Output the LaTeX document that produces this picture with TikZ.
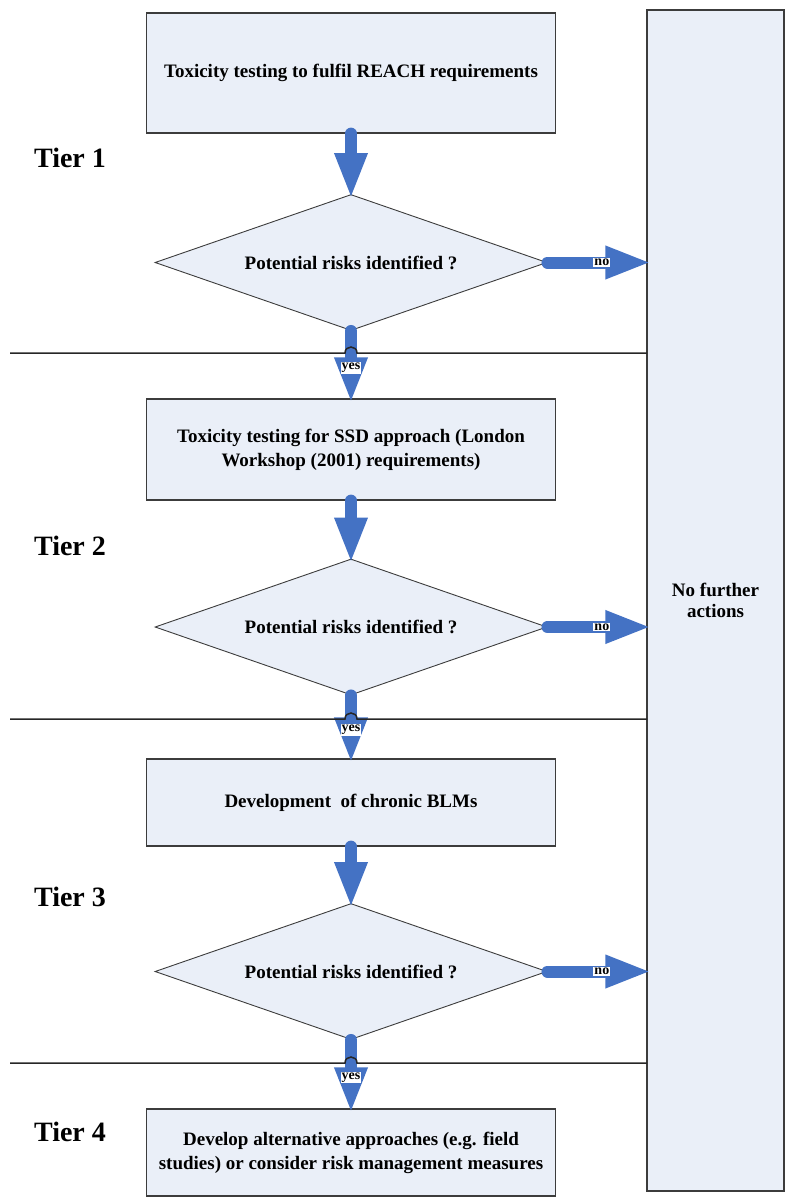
\documentclass[tikz,border=0pt]{standalone}
\usepackage{fontspec}
\setmainfont{Liberation Serif}
\usetikzlibrary{arrows.meta,shapes.geometric}

\definecolor{boxfill}{RGB}{234,239,248}
\definecolor{flowblue}{RGB}{68,114,196}
\definecolor{boxline}{RGB}{60,60,60}

\tikzset{
  stepbox/.style={rectangle, draw=boxline, fill=boxfill, line width=1.2pt,
    minimum width=409pt, inner sep=0pt, align=center,
    font=\fontsize{19}{24}\selectfont\bfseries},
  decision/.style={diamond, draw=boxline, fill=boxfill, line width=0.9pt,
    aspect=2.88, minimum width=392pt, minimum height=136pt, inner sep=0pt,
    font=\fontsize{19}{24}\selectfont\bfseries},
  tierlabel/.style={font=\fontsize{28}{32}\selectfont\bfseries},
  flow/.style={draw=flowblue, line width=12pt, line cap=round, shorten >=-5pt,
    -{Triangle[width=30pt,length=46pt]}},
  flowlabel/.style={fill=white, inner sep=1pt, text=black,
    font=\fontsize{14}{15}\selectfont\bfseries},
  tierline/.style={draw=black!85, line width=1.5pt}
}

\begin{document}
\begin{tikzpicture}[x=1pt, y=-1pt]
    \useasboundingbox (0,0) rectangle (787,1202);

    % right column
    \node[rectangle, draw=boxline, fill=boxfill, line width=1.2pt,
      minimum width=137pt, minimum height=1181pt, align=center,
      font=\fontsize{19}{21}\selectfont\bfseries] (stop) at (715.5, 600.5)
      {No further\\actions};

    % steps and decisions
    \node[stepbox, minimum height=120pt] (tox1) at (351, 73)
      {Toxicity testing to fulfil REACH requirements};
    \node[decision] (risk1) at (351, 262.5) {Potential risks identified ?};
    \node[stepbox, minimum height=101pt] (tox2) at (351, 449.5)
      {Toxicity testing for SSD approach (London\\Workshop (2001) requirements)};
    \node[decision] (risk2) at (351, 627) {Potential risks identified ?};
    \node[stepbox, minimum height=87pt] (blm) at (351, 802.5)
      {Development\ \ of chronic BLMs};
    \node[decision] (risk3) at (351, 971.5) {Potential risks identified ?};
    \node[stepbox, minimum height=87pt] (alt) at (351, 1152.5)
      {Develop alternative approaches (e.g. field\\studies) or consider risk management measures};

    % tiers
    \node[tierlabel] (tier1) at (70, 158) {Tier 1};
    \node[tierlabel] (tier2) at (70, 546) {Tier 2};
    \node[tierlabel] (tier3) at (70, 897) {Tier 3};
    \node[tierlabel] (tier4) at (70, 1132) {Tier 4};

    % arrows
    \draw[flow] (tox1.south) -- (risk1.north);
    \draw[flow] (tox2.south) -- (risk2.north);
    \draw[flow] (blm.south) -- (risk3.north);
    \draw[flow] (risk1.south) -- node[flowlabel, pos=0.55] (yes1) {yes} (tox2.north);
    \draw[flow] (risk2.south) -- node[flowlabel, pos=0.55] (yes2) {yes} (blm.north);
    \draw[flow] (risk3.south) -- node[flowlabel, pos=0.55] (yes3) {yes} (alt.north);
    \draw[flow] (risk1.east) -- node[flowlabel, pos=0.55] (no1) {no} (risk1.east -| stop.west);
    \draw[flow] (risk2.east) -- node[flowlabel, pos=0.55] (no2) {no} (risk2.east -| stop.west);
    \draw[flow] (risk3.east) -- node[flowlabel, pos=0.55] (no3) {no} (risk3.east -| stop.west);

    % tier separators, hopping over the arrows
    \foreach \y in {353, 719, 1063} {
      \draw[tierline] (10,\y) -- (345,\y) .. controls (345,\y-8) and (357,\y-8) .. (357,\y) -- (647,\y);
    }
\end{tikzpicture}
\end{document}
